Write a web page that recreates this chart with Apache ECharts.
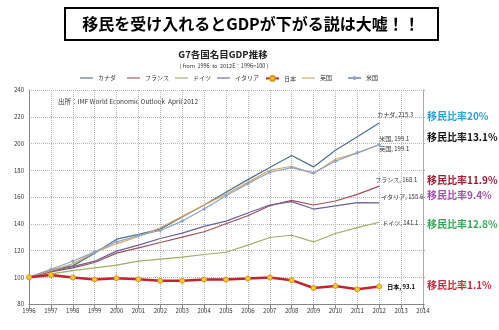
<!DOCTYPE html>
<html><head><meta charset="utf-8">
<script src="https://cdn.jsdelivr.net/npm/echarts@6/dist/echarts.min.js"></script>
<style>html,body{margin:0;padding:0;background:#fff}#c{width:499px;height:330px}</style>
</head><body><div id="c"></div>
<script>
const years = [1996,1997,1998,1999,2000,2001,2002,2003,2004,2005,2006,2007,2008,2009,2010,2011,2012];
const seriesNames = ['カナダ','フランス','ドイツ','イタリア','日本','英国','米国'];
const canada  = [100,105.5,108.5,118,128.5,132,136,145,154,163.5,173,182,191,182.5,195,205,215.3];
const france  = [100,104,107,111,118,122,126,130,134,140,146,153.5,157.5,154,157,162,168.1];
const germany = [100,102.5,105,107,109,112,113.5,115,117,118.7,124,129.7,131.4,126.4,132.7,137.1,141.1];
const italy   = [100,104.5,108,112,119.5,124,129,133,138,142,148,154,156.5,151,153.3,155.8,155.6];
const japan   = [100,101.7,99.8,98.3,99.3,98.5,97.3,97.3,98.3,98.3,99,99.8,97.8,92,93.5,91,93.1];
const uk      = [100,105,110,118.5,125,130.5,137,145.5,154,162,171,180,183,177.5,188.2,193,199.1];
const us      = [100,106,112,119,126.5,131,135,142,151,161,170,178.5,182,178,186.7,193,199.1];
const xTicks = [1996,2014,1];
const yTicks = [80,240,20];
const ratioLabels = ['移民比率20%','移民比率13.1%','移民比率11.9%','移民比率9.4%','移民比率12.8%','移民比率1.1%'];

const font = '"Noto Sans CJK JP","Noto Sans",sans-serif';
const colors = ['#4d6f8e','#a44e55','#9caf63','#6c5f9f','#c4232b','#d9a45e','#8ea3c9'];
const values = [canada,france,germany,italy,japan,uk,us];
const labelOffsets = [[-4,-8],[-6,-6],[1,0],[0,-6],[6,0],[-2,4],[-2,-6]];
const legendLeft = [80,127,175,217,265,302,347];

const series = seriesNames.map((name,i)=>{
  const vals = values[i];
  const data = years.map((y,j)=>[y, vals[j]]);
  const s = {name, type:'line', data, color:colors[i], lineStyle:{width:1.2, color:colors[i]},
    showSymbol:false, symbol:'none', z: 2,
    endLabel:{show:true, distance:2, offset:labelOffsets[i],
      formatter: name + ', ' + vals[vals.length-1].toFixed(1),
      fontSize:6, fontFamily:font, color: i===4 ? '#000' : '#333', fontWeight: i===4 ? 'bold' : 'normal'}};
  if (i===4) {
    s.lineStyle = {width:2.5, color:colors[i]};
    s.showSymbol = true; s.symbol = 'circle'; s.symbolSize = 5;
    s.itemStyle = {color:'#f6c83a', borderColor:'#d8961c', borderWidth:1};
    s.z = 5;
  }
  if (i===6) {
    s.showSymbol = true; s.symbol = 'diamond'; s.symbolSize = 4;
    s.itemStyle = {color:colors[i]};
  }
  return s;
});

const lineIcon = 'path://M0,4.4h14v1.2h-14z';
const legends = seriesNames.map((n,i)=>({
  left: legendLeft[i], top:75, itemWidth:13, itemHeight:6, padding:0,
  textStyle:{fontSize:6, color:'#333', fontFamily:font},
  data:[(i===4||i===6) ? {name:n} : {name:n, icon:lineIcon, itemStyle:{color:colors[i]}}]
}));

const ratioColors = ['#27a0d2','#111111','#9b1c30','#a24fae','#35a657','#c9283a'];
const ratioY = [116,137,180,195,224,285];
const graphics = [
  {type:'rect', shape:{x:65,y:8,width:373,height:32}, style:{fill:'#fff',stroke:'#000',lineWidth:2}},
  {type:'text', x:251, y:24, style:{text:'移民を受け入れるとGDPが下がる説は大嘘！！', fontSize:16, fontWeight:'bold', fontFamily:font, fill:'#000', textAlign:'center', textVerticalAlign:'middle'}},
  {type:'text', x:223, y:54, style:{text:'G7各国名目GDP推移', fontSize:9.5, fontWeight:'bold', fontFamily:font, fill:'#222', textAlign:'center', textVerticalAlign:'middle'}},
  {type:'text', x:224, y:66, style:{text:'( from  1996  to  2012E：1996=100 )', fontSize:5.5, fontFamily:font, fill:'#333', textAlign:'center', textVerticalAlign:'middle'}},
  {type:'text', x:58, y:102, style:{text:'出所：IMF World Economic Outlook  April 2012', fontSize:6.5, fontFamily:font, fill:'#333', textVerticalAlign:'middle'}}
];
ratioLabels.forEach((t,i)=>graphics.push({type:'text', x:427, y:ratioY[i], style:{text:t, fontSize:10, fontWeight:'bold', fontFamily:font, fill:ratioColors[i], textVerticalAlign:'middle'}}));

const chart = echarts.init(document.getElementById('c'), null, {renderer:'canvas'});
chart.setOption({
  animation:false,
  backgroundColor:'#fff',
  textStyle:{fontFamily:font},
  legend:legends,
  grid:{left:29, right:76, top:90, bottom:26},
  xAxis:{type:'value', min:xTicks[0], max:xTicks[1], interval:xTicks[2],
    axisLine:{lineStyle:{color:'#888'}}, axisTick:{show:true, lineStyle:{color:'#888'}},
    axisLabel:{fontSize:6, color:'#333', formatter:v=>String(v), margin:4},
    splitLine:{show:true, lineStyle:{type:'dotted', color:'#b5b5b5'}}},
  yAxis:[{type:'value', min:yTicks[0], max:yTicks[1], interval:yTicks[2],
    axisLine:{show:true, lineStyle:{color:'#888'}}, axisTick:{show:false},
    axisLabel:{fontSize:6, color:'#333', margin:5},
    splitLine:{show:true, lineStyle:{type:'dotted', color:'#b5b5b5'}}},
    {type:'value', position:'right', min:yTicks[0], max:yTicks[1], interval:yTicks[2],
    axisLine:{show:true, lineStyle:{color:'#aaa'}}, axisTick:{show:true, length:2, lineStyle:{color:'#aaa'}},
    axisLabel:{show:false}, splitLine:{show:false}}],
  series,
  graphic:graphics
});
</script></body></html>
